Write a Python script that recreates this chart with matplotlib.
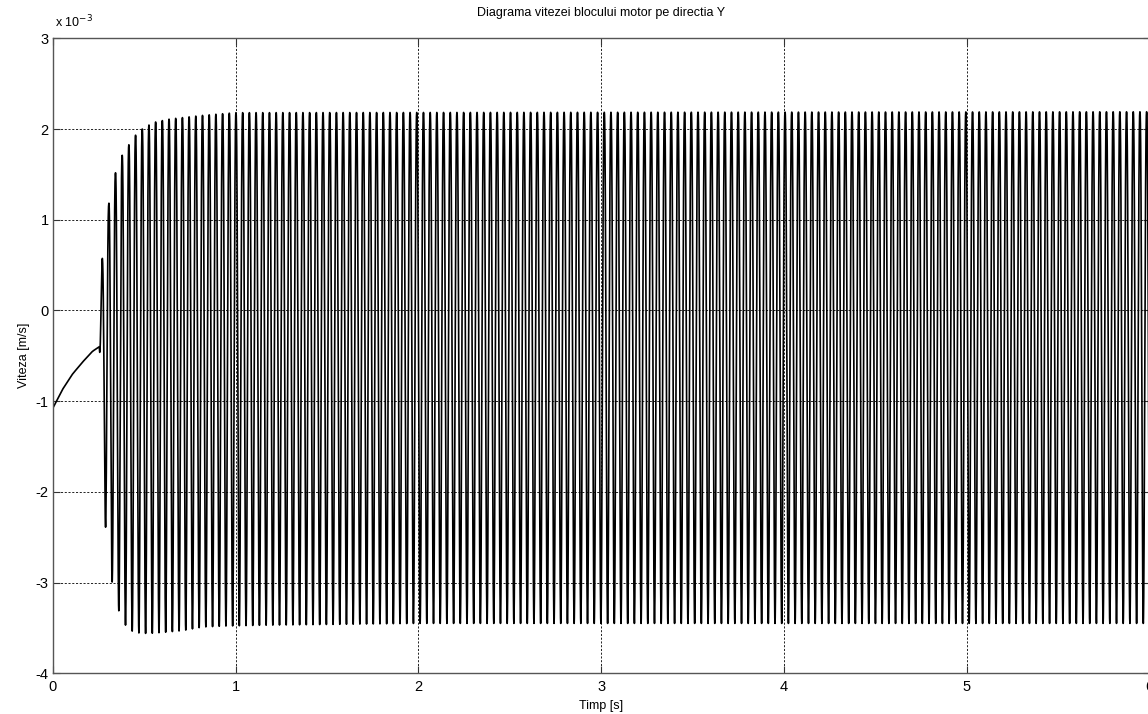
import numpy as np
import matplotlib
matplotlib.use("Agg")
import matplotlib.pyplot as plt

# Velocity of the motor block along Y, in units of 1e-3 m/s
# Start-up drift before the oscillation sets in
t_start = [0.0, 0.054, 0.109, 0.163, 0.218, 0.255]
v_start = [-1.08, -0.87, -0.70, -0.57, -0.45, -0.40]

# Envelope of the steady oscillation (peaks and troughs)
t_upper = [0.255, 0.27, 0.316, 0.36, 0.39, 0.425, 0.47, 0.51, 0.545, 0.64, 0.82, 1.0, 6.2]
v_upper = [-0.40, 0.56, 1.33, 1.63, 1.75, 1.85, 1.98, 2.02, 2.07, 2.11, 2.15, 2.18, 2.19]
t_lower = [0.255, 0.29, 0.332, 0.37, 0.41, 0.45, 0.49, 0.53, 0.60, 0.71, 0.82, 0.93, 1.15, 2.0, 6.2]
v_lower = [-0.40, -2.46, -3.10, -3.37, -3.51, -3.55, -3.56, -3.56, -3.55, -3.53, -3.49, -3.48, -3.47, -3.45, -3.45]

freq_hz = 27.3          # oscillation frequency
first_peak = 0.27       # time of the first crest
t_end = 6.2

x_ticks = [0, 1, 2, 3, 4, 5, 6]
y_ticks = [-4, -3, -2, -1, 0, 1, 2, 3]

# Build the time trace
period = 1.0 / freq_hz
t_osc = np.arange(t_start[-1], t_end, period / 200.0)
up = np.interp(t_osc, t_upper, v_upper)
lo = np.interp(t_osc, t_lower, v_lower)
phase = (t_osc - first_peak) * freq_hz
dip = np.abs(np.sin(np.pi * phase)) ** 2.5
v_osc = up - (up - lo) * dip
t_pre = np.linspace(t_start[0], t_start[-1], 60)
t_all = np.concatenate([t_pre, t_osc])
v_all = np.concatenate([np.interp(t_pre, t_start, v_start), v_osc])

plt.rcParams['font.family'] = ['Liberation Sans', 'DejaVu Sans']
fig = plt.figure(figsize=(11.48, 7.14), dpi=100)
W, H = 1148, 714
x0, x1 = 52.7, 1149.5
y_top, y_bot = 38.3, 673.3
ax = fig.add_axes([x0 / W, 1 - y_bot / H, (x1 - x0) / W, (y_bot - y_top) / H])

ax.plot(t_all, v_all, color='black', linewidth=1.2, zorder=2)

ax.set_xlim(0, 6)
ax.set_ylim(-4, 3)
ax.set_xticks(x_ticks)
ax.set_yticks(y_ticks)
ax.set_xticklabels([str(v) for v in x_ticks])
ax.set_yticklabels([str(v) for v in y_ticks])
ax.grid(True, color='black', linestyle=(0, (2.5, 2)), linewidth=0.6)
ax.set_axisbelow(True)
ax.tick_params(direction='in', length=5, width=0.8, colors='#333333', labelcolor='black',
               labelsize=10.5, top=True, right=True)
ax.tick_params(axis='x', pad=5)
ax.tick_params(axis='y', pad=3)
for s in ax.spines.values():
    s.set_color('#555555')
    s.set_linewidth(1.0)

ax.set_title('Diagrama vitezei blocului motor pe directia Y', fontsize=9, pad=16)
ax.set_xlabel('Timp [s]', fontsize=9, labelpad=4)
ax.set_ylabel('Viteza [m/s]', fontsize=9, labelpad=4)
ax.text(0.002, 1.012, r'x 10$^{-3}$', transform=ax.transAxes, fontsize=9, ha='left', va='bottom')

fig.savefig('out.png', dpi=100)
